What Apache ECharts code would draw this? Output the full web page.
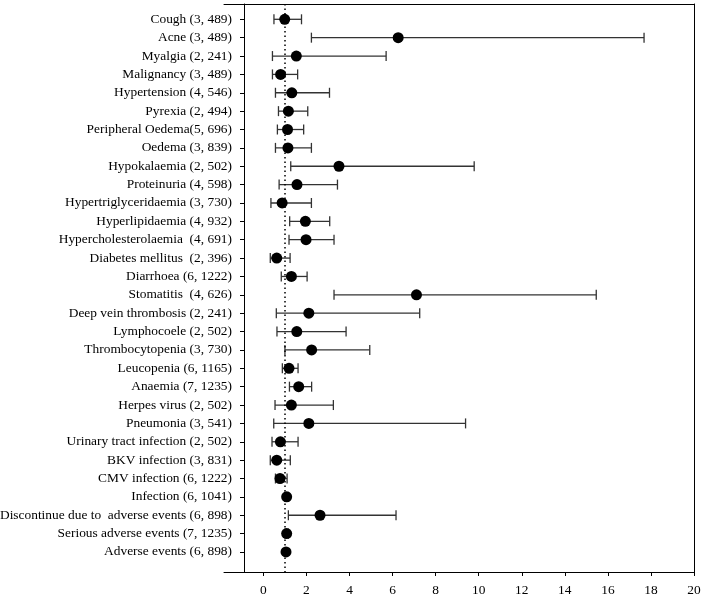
<!DOCTYPE html>
<html>
<head>
<meta charset="utf-8">
<script src="https://cdn.jsdelivr.net/npm/echarts@6/dist/echarts.min.js"></script>
<style>html,body{margin:0;padding:0;background:#fff}#c{width:701px;height:596px}</style>
</head>
<body>
<div id="c"></div>
<script>
var categories = [
  "Cough (3, 489)",
  "Acne (3, 489)",
  "Myalgia (2, 241)",
  "Malignancy (3, 489)",
  "Hypertension (4, 546)",
  "Pyrexia (2, 494)",
  "Peripheral Oedema(5, 696)",
  "Oedema (3, 839)",
  "Hypokalaemia (2, 502)",
  "Proteinuria (4, 598)",
  "Hypertriglyceridaemia (3, 730)",
  "Hyperlipidaemia (4, 932)",
  "Hypercholesterolaemia  (4, 691)",
  "Diabetes mellitus  (2, 396)",
  "Diarrhoea (6, 1222)",
  "Stomatitis  (4, 626)",
  "Deep vein thrombosis (2, 241)",
  "Lymphocoele (2, 502)",
  "Thrombocytopenia (3, 730)",
  "Leucopenia (6, 1165)",
  "Anaemia (7, 1235)",
  "Herpes virus (2, 502)",
  "Pneumonia (3, 541)",
  "Urinary tract infection (2, 502)",
  "BKV infection (3, 831)",
  "CMV infection (6, 1222)",
  "Infection (6, 1041)",
  "Discontinue due to  adverse events (6, 898)",
  "Serious adverse events (7, 1235)",
  "Adverse events (6, 898)"
];
var estimates = [0.99, 6.26, 1.53, 0.80, 1.32, 1.16, 1.12, 1.14, 3.51, 1.56,
                 0.87, 1.95, 1.98, 0.62, 1.30, 7.11, 2.11, 1.55, 2.24, 1.19,
                 1.64, 1.30, 2.11, 0.79, 0.62, 0.77, 1.08, 2.63, 1.08, 1.05];
var lower = [0.49, 2.23, 0.42, 0.42, 0.56, 0.70, 0.65, 0.56, 1.27, 0.73,
             0.35, 1.22, 1.19, 0.32, 0.83, 3.28, 0.60, 0.63, 1.00, 0.88,
             1.21, 0.54, 0.48, 0.40, 0.32, 0.56, 0.99, 1.16, 1.01, 0.99];
var upper = [1.77, 17.68, 5.70, 1.59, 3.07, 2.06, 1.87, 2.23, 9.79, 3.44,
             2.23, 3.08, 3.28, 1.24, 2.03, 15.46, 7.26, 3.84, 4.94, 1.61,
             2.24, 3.25, 9.39, 1.61, 1.25, 1.10, 1.17, 6.16, 1.16, 1.10];
var xTicks = [0, 2, 4, 6, 8, 10, 12, 14, 16, 18, 20];
var referenceValue = 1;

var FONT = "Liberation Serif";
var idx = categories.map(function (_, i) { return i; });
var barData = idx.map(function (i) { return [i, lower[i], upper[i]]; });
var pointData = idx.map(function (i) { return [estimates[i], i]; });

var X_MIN = -1.83, X_MAX = 20, Y_MIN = -0.833, Y_MAX = 30.09;

var chart = echarts.init(document.getElementById('c'), null, { renderer: 'canvas' });
chart.setOption({
  animation: false,
  backgroundColor: '#fff',
  grid: { left: 224, width: 470, top: 4, bottom: 24, containLabel: false, outerBoundsMode: 'none' },
  xAxis: [{
    type: 'value', min: X_MIN, max: X_MAX, position: 'bottom',
    axisLine: { onZero: false, lineStyle: { color: '#000', width: 1 } },
    axisTick: { show: true, length: 4, customValues: xTicks, lineStyle: { color: '#000' } },
    axisLabel: { customValues: xTicks, margin: 12, color: '#000', fontFamily: FONT, fontSize: 13.4 },
    splitLine: { show: false }
  }, {
    type: 'value', min: X_MIN, max: X_MAX, position: 'top',
    axisLine: { show: true, onZero: false, lineStyle: { color: '#000', width: 1 } },
    axisTick: { show: false }, axisLabel: { show: false }, splitLine: { show: false }
  }],
  yAxis: [{
    type: 'value', inverse: true, min: Y_MIN, max: Y_MAX, position: 'left', offset: -20,
    axisLine: { show: true, onZero: false, lineStyle: { color: '#000', width: 1 } },
    axisTick: { show: true, length: 4, customValues: idx, lineStyle: { color: '#000' } },
    axisLabel: {
      customValues: idx, margin: 12, color: '#000', fontFamily: FONT, fontSize: 13.4,
      formatter: function (v) { return categories[Math.round(v)]; }
    },
    splitLine: { show: false }
  }, {
    type: 'value', inverse: true, min: Y_MIN, max: Y_MAX, position: 'right',
    axisLine: { show: true, onZero: false, lineStyle: { color: '#000', width: 1 } },
    axisTick: { show: false }, axisLabel: { show: false }, splitLine: { show: false }
  }],
  series: [{
    type: 'custom',
    xAxisIndex: 0, yAxisIndex: 0,
    data: barData,
    encode: { x: [1, 2], y: 0 },
    renderItem: function (params, api) {
      var i = api.value(0);
      var p1 = api.coord([api.value(1), i]);
      var p2 = api.coord([api.value(2), i]);
      var h = 5;
      var st = { stroke: '#333', lineWidth: 1.3 };
      return {
        type: 'group',
        children: [
          { type: 'line', shape: { x1: p1[0], y1: p1[1], x2: p2[0], y2: p2[1] }, style: st },
          { type: 'line', shape: { x1: p1[0], y1: p1[1] - h, x2: p1[0], y2: p1[1] + h }, style: st },
          { type: 'line', shape: { x1: p2[0], y1: p2[1] - h, x2: p2[0], y2: p2[1] + h }, style: st }
        ]
      };
    },
    z: 2
  }, {
    type: 'scatter',
    xAxisIndex: 0, yAxisIndex: 0,
    data: pointData,
    symbol: 'circle', symbolSize: 11,
    itemStyle: { color: '#000', opacity: 1 },
    z: 3,
    markLine: {
      silent: true, symbol: 'none',
      label: { show: false },
      lineStyle: { color: '#000', type: [1.5, 3], width: 1.5 },
      data: [{ xAxis: referenceValue }]
    }
  }]
});
</script>
</body>
</html>
